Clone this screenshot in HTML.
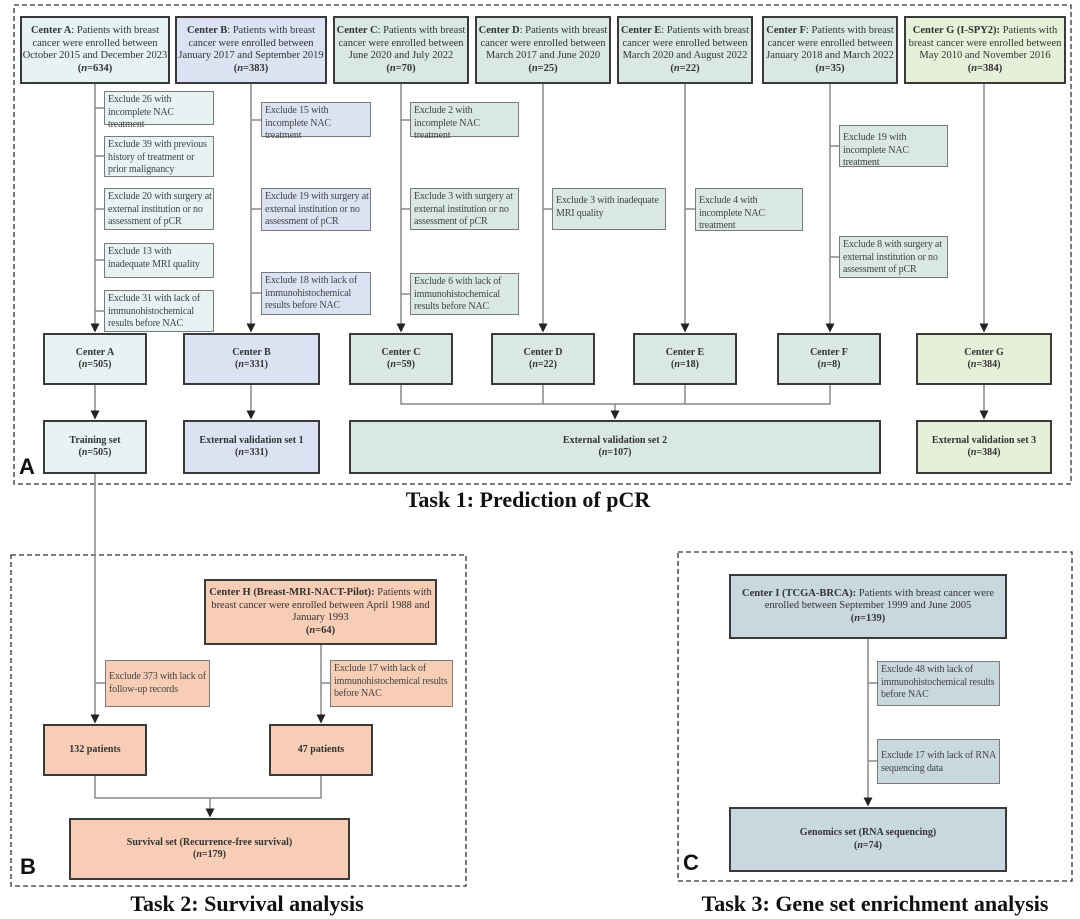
<!DOCTYPE html>
<html><head><meta charset="utf-8"><style>
body{margin:0;width:1080px;height:919px;background:#fff;position:relative;overflow:hidden;font-family:"Liberation Serif",serif;color:#333}
.b{position:absolute;box-sizing:border-box;border:2px solid #3a3a3a;display:flex;flex-direction:column;justify-content:center;align-items:center;text-align:center;font-size:10.5px;line-height:12.5px}
.e{position:absolute;box-sizing:border-box;border:1.3px solid #7a7a7a;font-size:10px;letter-spacing:-0.15px;line-height:12.5px;padding:2px 1px 0 3px;text-align:left;color:#444}
.s{font-weight:bold;font-size:10px}
.ca{background:#e7f2f3}.cb{background:#dbe3f3}.cc{background:#d9e8e4}.cg{background:#e7efd9}.ch{background:#f7cdb6}.ci{background:#c9d8df}
.t{position:absolute;font-weight:bold;font-size:22px;color:#111;white-space:nowrap;transform:translateX(-50%)}
.L{position:absolute;font-family:"Liberation Sans",sans-serif;font-weight:bold;font-size:22px;color:#111}
</style></head><body>
<svg width="1080" height="919" style="position:absolute;left:0;top:0">
<defs><marker id="a" markerWidth="6" markerHeight="6" refX="5" refY="3" orient="auto"><path d="M0,0L6,3L0,6z" fill="#222"/></marker></defs>
<g fill="none" stroke="#333" stroke-width="1.3" stroke-dasharray="5,3">
<rect x="14" y="5" width="1057" height="479"/>
<rect x="11" y="555" width="455" height="331"/>
<rect x="678" y="552" width="394" height="329"/>
</g>
<g stroke="#888" stroke-width="1.5" fill="none">
<line x1="95" y1="84" x2="95" y2="331" marker-end="url(#a)"/>
<line x1="251" y1="84" x2="251" y2="331" marker-end="url(#a)"/>
<line x1="401" y1="84" x2="401" y2="331" marker-end="url(#a)"/>
<line x1="543" y1="84" x2="543" y2="331" marker-end="url(#a)"/>
<line x1="685" y1="84" x2="685" y2="331" marker-end="url(#a)"/>
<line x1="830" y1="84" x2="830" y2="331" marker-end="url(#a)"/>
<line x1="984" y1="84" x2="984" y2="331" marker-end="url(#a)"/>
<path d="M95 108H104M95 156H104M95 209H104M95 260H104M95 311H104"/>
<path d="M251 120H261M251 209H261M251 293H261"/>
<path d="M401 120H410M401 209H410M401 294H410"/>
<path d="M543 209H552M685 209H695M830 146H839M830 257H839"/>
<line x1="95" y1="385" x2="95" y2="418" marker-end="url(#a)"/>
<line x1="251" y1="385" x2="251" y2="418" marker-end="url(#a)"/>
<line x1="984" y1="385" x2="984" y2="418" marker-end="url(#a)"/>
<path d="M401 385V404H830V385M543 385V404M685 385V404"/>
<line x1="615" y1="404" x2="615" y2="418" marker-end="url(#a)"/>
<line x1="95" y1="474" x2="95" y2="722" marker-end="url(#a)"/>
<path d="M95 683H105"/>
<line x1="321" y1="645" x2="321" y2="722" marker-end="url(#a)"/>
<path d="M321 683H330"/>
<path d="M95 776V798H321V776"/>
<line x1="210" y1="798" x2="210" y2="816" marker-end="url(#a)"/>
<line x1="868" y1="639" x2="868" y2="805" marker-end="url(#a)"/>
<path d="M868 683H877M868 761H877"/>
</g>
</svg>

<div class="b ca" style="left:20px;top:16px;width:150px;height:68px"><div><b>Center A</b>: Patients with breast cancer were enrolled between October 2015 and December 2023<br><b>(<i>n</i>=634)</b></div></div>
<div class="b cb" style="left:175px;top:16px;width:152px;height:68px"><div><b>Center B</b>: Patients with breast cancer were enrolled between January 2017 and September 2019<br><b>(<i>n</i>=383)</b></div></div>
<div class="b cc" style="left:333px;top:16px;width:136px;height:68px"><div><b>Center C</b>: Patients with breast cancer were enrolled between June 2020 and July 2022<br><b>(<i>n</i>=70)</b></div></div>
<div class="b cc" style="left:475px;top:16px;width:136px;height:68px"><div><b>Center D</b>: Patients with breast cancer were enrolled between March 2017 and June 2020<br><b>(<i>n</i>=25)</b></div></div>
<div class="b cc" style="left:617px;top:16px;width:136px;height:68px"><div><b>Center E</b>: Patients with breast cancer were enrolled between March 2020 and August 2022<br><b>(<i>n</i>=22)</b></div></div>
<div class="b cc" style="left:762px;top:16px;width:136px;height:68px"><div><b>Center F</b>: Patients with breast cancer were enrolled between January 2018 and March 2022<br><b>(<i>n</i>=35)</b></div></div>
<div class="b cg" style="left:904px;top:16px;width:162px;height:68px"><div><b>Center G (I-SPY2):</b> Patients with breast cancer were enrolled between May 2010 and November 2016<br><b>(<i>n</i>=384)</b></div></div>

<div class="e ca" style="left:104px;top:91px;width:110px;height:34px">Exclude 26 with incomplete NAC treatment</div>
<div class="e ca" style="left:104px;top:136px;width:110px;height:41px">Exclude 39 with previous history of treatment or prior malignancy</div>
<div class="e ca" style="left:104px;top:188px;width:110px;height:42px">Exclude 20 with surgery at external institution or no assessment of pCR</div>
<div class="e ca" style="left:104px;top:243px;width:110px;height:35px">Exclude 13 with inadequate MRI quality</div>
<div class="e ca" style="left:104px;top:290px;width:110px;height:42px">Exclude 31 with lack of immunohistochemical results before NAC</div>

<div class="e cb" style="left:261px;top:102px;width:110px;height:35px">Exclude 15 with incomplete NAC treatment</div>
<div class="e cb" style="left:261px;top:188px;width:110px;height:43px">Exclude 19 with surgery at external institution or no assessment of pCR</div>
<div class="e cb" style="left:261px;top:272px;width:110px;height:43px">Exclude 18 with lack of immunohistochemical results before NAC</div>

<div class="e cc" style="left:410px;top:102px;width:109px;height:35px">Exclude 2 with incomplete NAC treatment</div>
<div class="e cc" style="left:410px;top:188px;width:109px;height:42px">Exclude 3 with surgery at external institution or no assessment of pCR</div>
<div class="e cc" style="left:410px;top:273px;width:109px;height:42px">Exclude 6 with lack of immunohistochemical results before NAC</div>
<div class="e cc" style="left:552px;top:188px;width:114px;height:42px;padding-top:6px">Exclude 3 with inadequate MRI quality</div>
<div class="e cc" style="left:695px;top:188px;width:108px;height:43px;padding-top:6px">Exclude 4 with incomplete NAC treatment</div>
<div class="e cc" style="left:839px;top:125px;width:109px;height:42px;padding-top:6px">Exclude 19 with incomplete NAC treatment</div>
<div class="e cc" style="left:839px;top:236px;width:109px;height:42px">Exclude 8 with surgery at external institution or no assessment of pCR</div>

<div class="b ca s" style="left:43px;top:333px;width:104px;height:52px"><div>Center A<br>(<i>n</i>=505)</div></div>
<div class="b cb s" style="left:183px;top:333px;width:137px;height:52px"><div>Center B<br>(<i>n</i>=331)</div></div>
<div class="b cc s" style="left:349px;top:333px;width:104px;height:52px"><div>Center C<br>(<i>n</i>=59)</div></div>
<div class="b cc s" style="left:491px;top:333px;width:104px;height:52px"><div>Center D<br>(<i>n</i>=22)</div></div>
<div class="b cc s" style="left:633px;top:333px;width:104px;height:52px"><div>Center E<br>(<i>n</i>=18)</div></div>
<div class="b cc s" style="left:777px;top:333px;width:104px;height:52px"><div>Center F<br>(<i>n</i>=8)</div></div>
<div class="b cg s" style="left:916px;top:333px;width:136px;height:52px"><div>Center G<br>(<i>n</i>=384)</div></div>

<div class="b ca s" style="left:43px;top:420px;width:104px;height:54px"><div>Training set<br>(<i>n</i>=505)</div></div>
<div class="b cb s" style="left:183px;top:420px;width:137px;height:54px"><div>External validation set 1<br>(<i>n</i>=331)</div></div>
<div class="b cc s" style="left:349px;top:420px;width:532px;height:54px"><div>External validation set 2<br>(<i>n</i>=107)</div></div>
<div class="b cg s" style="left:916px;top:420px;width:136px;height:54px"><div>External validation set 3<br>(<i>n</i>=384)</div></div>
<div class="L" style="left:19px;top:454px">A</div>
<div class="t" style="left:528px;top:487px">Task 1: Prediction of pCR</div>

<div class="b ch" style="left:204px;top:579px;width:233px;height:66px"><div><b>Center H (Breast-MRI-NACT-Pilot):</b> Patients with breast cancer were enrolled between April 1988 and January 1993<br><b>(<i>n</i>=64)</b></div></div>
<div class="e ch" style="left:105px;top:660px;width:105px;height:47px;padding-top:10px">Exclude 373 with lack of follow-up records</div>
<div class="e ch" style="left:330px;top:660px;width:123px;height:47px">Exclude 17 with lack of immunohistochemical results before NAC</div>
<div class="b ch s" style="left:43px;top:724px;width:104px;height:52px"><div>132 patients</div></div>
<div class="b ch s" style="left:269px;top:724px;width:104px;height:52px"><div>47 patients</div></div>
<div class="b ch s" style="left:69px;top:818px;width:281px;height:62px"><div>Survival set (Recurrence-free survival)<br>(<i>n</i>=179)</div></div>
<div class="L" style="left:20px;top:854px">B</div>
<div class="t" style="left:247px;top:891px">Task 2: Survival analysis</div>

<div class="b ci" style="left:729px;top:574px;width:278px;height:65px"><div><b>Center I (TCGA-BRCA):</b> Patients with breast cancer were enrolled between September 1999 and June 2005<br><b>(<i>n</i>=139)</b></div></div>
<div class="e ci" style="left:877px;top:661px;width:123px;height:45px">Exclude 48 with lack of immunohistochemical results before NAC</div>
<div class="e ci" style="left:877px;top:739px;width:123px;height:45px;padding-top:10px">Exclude 17 with lack of RNA sequencing data</div>
<div class="b ci s" style="left:729px;top:807px;width:278px;height:65px"><div>Genomics set (RNA sequencing)<br>(<i>n</i>=74)</div></div>
<div class="L" style="left:683px;top:850px">C</div>
<div class="t" style="left:875px;top:891px">Task 3: Gene set enrichment analysis</div>
</body></html>
